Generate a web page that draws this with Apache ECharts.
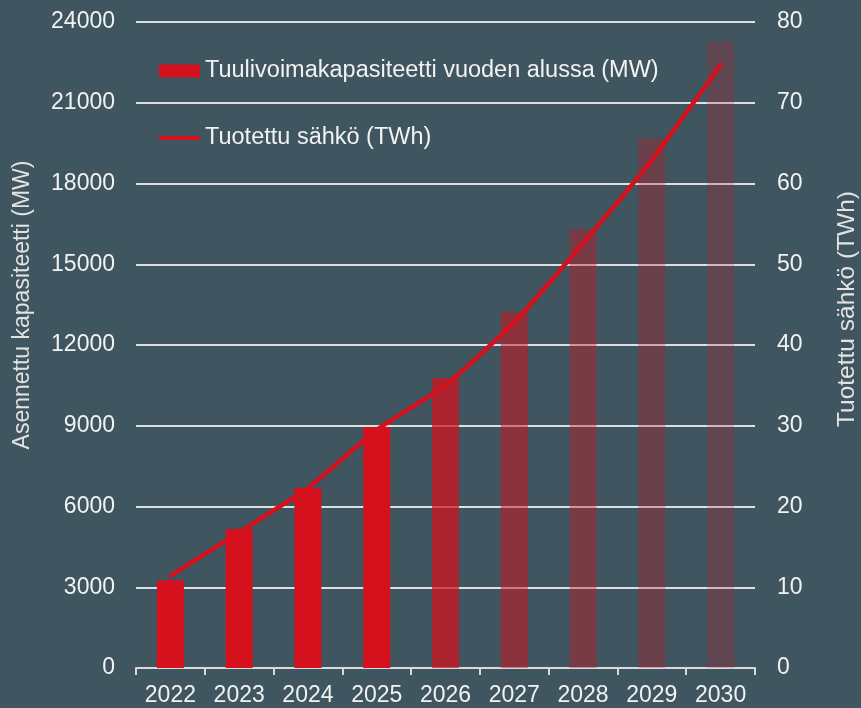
<!DOCTYPE html>
<html>
<head>
<meta charset="utf-8">
<script src="https://cdn.jsdelivr.net/npm/echarts@6/dist/echarts.min.js"></script>
<style>
html,body{margin:0;padding:0;background:#3f555f;}
#c{width:861px;height:708px;}
</style>
</head>
<body>
<div id="c"></div>
<script>
var years = ['2022','2023','2024','2025','2026','2027','2028','2029','2030'];
var capacityMW = [3260, 5160, 6690, 8950, 10770, 13220, 16300, 19700, 23290];
var energyTWh = [11.4, 16.8, 22.3, 29.5, 35.0, 42.8, 52.6, 62.9, 74.7];
var barOpacity = [1, 1, 1, 1, 0.72, 0.51, 0.39, 0.29, 0.22];

var RED = '#d4111d';
var chart = echarts.init(document.getElementById('c'));
var font = 'Liberation Sans, Arial, sans-serif';
var FS = 23;

chart.setOption({
  backgroundColor: '#3f555f',
  textStyle: { fontFamily: font },
  animation: false,
  grid: { left: 136, right: 106, top: 22, bottom: 40, containLabel: false, outerBoundsMode: 'none' },
  legend: {
    orient: 'vertical',
    left: 154,
    top: 54,
    itemWidth: 41,
    itemHeight: 13,
    itemGap: 43,
    itemTextGap: 7,
    textStyle: { color: '#f2f2f2', fontSize: 23.5, fontFamily: font },
    data: [
      { name: 'Tuulivoimakapasiteetti vuoden alussa (MW)', icon: 'rect' },
      { name: 'Tuotettu sähkö (TWh)', icon: 'path://M0,0L47,0L47,4.5L0,4.5Z', itemStyle: { color: RED, borderWidth: 0 } }
    ]
  },
  xAxis: {
    type: 'category',
    data: years,
    boundaryGap: true,
    axisLine: { show: true, lineStyle: { color: '#d9d9d9', width: 2 } },
    axisTick: { show: true, length: 7, lineStyle: { color: '#d9d9d9', width: 2 } },
    axisLabel: { color: '#f2f2f2', fontSize: FS, margin: 16, fontFamily: font },
    splitLine: { show: false }
  },
  yAxis: [
    {
      type: 'value',
      min: 0, max: 24000, interval: 3000,
      name: 'Asennettu kapasiteetti (MW)',
      nameLocation: 'middle',
      nameRotate: 90,
      nameGap: 102,
      nameTextStyle: { color: '#e2e2e2', fontSize: FS, fontFamily: font, padding: [0, 0, 0, 80] },
      axisLine: { show: false },
      axisTick: { show: false },
      axisLabel: { color: '#f2f2f2', fontSize: FS, margin: 21, fontFamily: font, formatter: function (v) { return String(v); } },
      splitLine: { show: true, lineStyle: { color: '#dde0e2', width: 2 } }
    },
    {
      type: 'value',
      min: 0, max: 80, interval: 10,
      position: 'right',
      name: 'Tuotettu sähkö (TWh)',
      nameLocation: 'middle',
      nameRotate: 90,
      nameGap: 80,
      nameTextStyle: { color: '#e2e2e2', fontSize: 24.5, fontFamily: font, padding: [0, 0, 0, 72] },
      axisLine: { show: false },
      axisTick: { show: false },
      axisLabel: { color: '#f2f2f2', fontSize: FS, margin: 22, fontFamily: font, formatter: function (v) { return String(v); } },
      splitLine: { show: false }
    }
  ],
  series: [
    {
      name: 'Tuulivoimakapasiteetti vuoden alussa (MW)',
      type: 'bar',
      yAxisIndex: 0,
      barWidth: 27,
      itemStyle: { color: RED },
      data: capacityMW.map(function (v, i) {
        return { value: v, itemStyle: { color: RED, opacity: barOpacity[i] } };
      }),
      z: 3
    },
    {
      name: 'Tuotettu sähkö (TWh)',
      type: 'line',
      yAxisIndex: 1,
      data: energyTWh,
      symbol: 'none',
      smooth: 0.15,
      lineStyle: { color: RED, width: 4.5, cap: 'round' },
      itemStyle: { color: RED },
      z: 4
    }
  ]
});
</script>
</body>
</html>
